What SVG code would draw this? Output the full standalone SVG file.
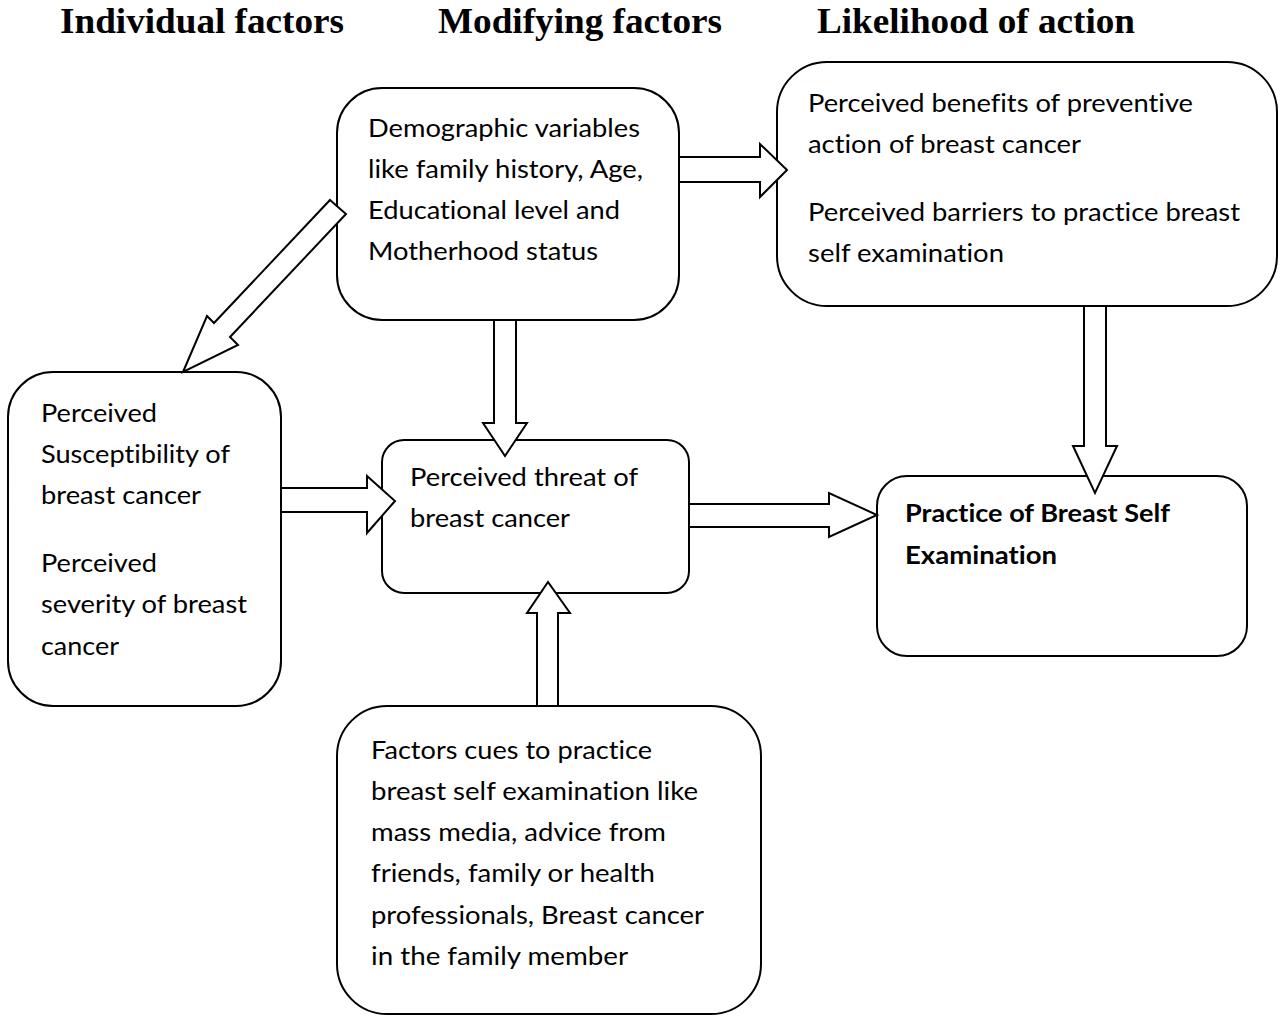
<svg xmlns="http://www.w3.org/2000/svg" width="1278" height="1016" viewBox="0 0 1278 1016">
<style>
.box{fill:#fff;stroke:#000;stroke-width:2}
.arr{fill:#fff;stroke:#000;stroke-width:2;stroke-linejoin:miter}
.t{font-family:Lato,"Open Sans","Liberation Sans",sans-serif;font-size:25px;fill:#000;font-variant-ligatures:none;font-feature-settings:"liga" 0,"clig" 0}
.b{font-weight:bold}
.h{font-family:"Liberation Serif","Times New Roman",serif;font-size:35px;font-weight:bold;fill:#000}
</style>
<rect width="1278" height="1016" fill="#fff"/>
<g id="headers">
<text class="h" x="60" y="33" textLength="284" lengthAdjust="spacingAndGlyphs">Individual factors</text>
<text class="h" x="438" y="33" textLength="284" lengthAdjust="spacingAndGlyphs">Modifying factors</text>
<text class="h" x="817" y="33" textLength="318" lengthAdjust="spacingAndGlyphs">Likelihood of action</text>
</g>
<g id="demographic">
<rect class="box" x="337" y="88" width="342" height="232" rx="45" ry="45"/>
<text class="t" x="368" y="137" textLength="272" lengthAdjust="spacingAndGlyphs">Demographic variables</text>
<text class="t" x="368" y="178" textLength="275" lengthAdjust="spacingAndGlyphs">like family history, Age,</text>
<text class="t" x="368" y="219" textLength="252" lengthAdjust="spacingAndGlyphs">Educational level and</text>
<text class="t" x="368" y="260" textLength="230" lengthAdjust="spacingAndGlyphs">Motherhood status</text>
</g>
<g id="benefits">
<rect class="box" x="777" y="62" width="500" height="244" rx="50" ry="50"/>
<text class="t" x="808" y="112" textLength="385" lengthAdjust="spacingAndGlyphs">Perceived benefits of preventive</text>
<text class="t" x="808" y="153" textLength="273" lengthAdjust="spacingAndGlyphs">action of breast cancer</text>
<text class="t" x="808" y="221" textLength="432" lengthAdjust="spacingAndGlyphs">Perceived barriers to practice breast</text>
<text class="t" x="808" y="262" textLength="196" lengthAdjust="spacingAndGlyphs">self examination</text>
</g>
<g id="individual">
<rect class="box" x="8" y="372" width="273" height="334" rx="45" ry="45"/>
<text class="t" x="41" y="422" textLength="116" lengthAdjust="spacingAndGlyphs">Perceived</text>
<text class="t" x="41" y="463" textLength="189" lengthAdjust="spacingAndGlyphs">Susceptibility of</text>
<text class="t" x="41" y="504" textLength="160" lengthAdjust="spacingAndGlyphs">breast cancer</text>
<text class="t" x="41" y="572" textLength="116" lengthAdjust="spacingAndGlyphs">Perceived</text>
<text class="t" x="41" y="613" textLength="206" lengthAdjust="spacingAndGlyphs">severity of breast</text>
<text class="t" x="41" y="655" textLength="78" lengthAdjust="spacingAndGlyphs">cancer</text>
</g>
<g id="threat">
<rect class="box" x="382" y="440" width="307" height="153" rx="22" ry="22"/>
<text class="t" x="410" y="486" textLength="228" lengthAdjust="spacingAndGlyphs">Perceived threat of</text>
<text class="t" x="410" y="527" textLength="160" lengthAdjust="spacingAndGlyphs">breast cancer</text>
</g>
<g id="practice">
<rect class="box" x="877" y="476" width="370" height="180" rx="30" ry="30"/>
<text class="t b" x="905" y="522" textLength="265" lengthAdjust="spacingAndGlyphs">Practice of Breast Self</text>
<text class="t b" x="905" y="564" textLength="152" lengthAdjust="spacingAndGlyphs">Examination</text>
</g>
<g id="cues">
<rect class="box" x="337" y="706" width="424" height="308" rx="50" ry="50"/>
<text class="t" x="371" y="759" textLength="281" lengthAdjust="spacingAndGlyphs">Factors cues to practice</text>
<text class="t" x="371" y="800" textLength="327" lengthAdjust="spacingAndGlyphs">breast self examination like</text>
<text class="t" x="371" y="841" textLength="295" lengthAdjust="spacingAndGlyphs">mass media, advice from</text>
<text class="t" x="371" y="882" textLength="284" lengthAdjust="spacingAndGlyphs">friends, family or health</text>
<text class="t" x="371" y="924" textLength="333" lengthAdjust="spacingAndGlyphs">professionals, Breast cancer</text>
<text class="t" x="371" y="965" textLength="257" lengthAdjust="spacingAndGlyphs">in the family member</text>
</g>
<g id="connectors">
<polygon class="arr" points="330,200 346,214 230,337 238,345 183,372 207,316 214,323"/>
<polygon class="arr" points="679,157 760,157 760,144 787,170 760,197 760,182 679,182"/>
<polygon class="arr" points="494,320 516,320 516,423 527,423 505,456 483,423 494,423"/>
<polygon class="arr" points="281,488 367,488 367,476 395,501 367,533 367,512 281,512"/>
<polygon class="arr" points="689,504 829,504 829,493 877,515 829,537 829,527 689,527"/>
<polygon class="arr" points="537,706 537,613 527,613 548,582 570,613 558,613 558,706"/>
<polygon class="arr" points="1084,306 1106,306 1106,446 1117,446 1095,493 1073,446 1084,446"/>
</g>
</svg>
